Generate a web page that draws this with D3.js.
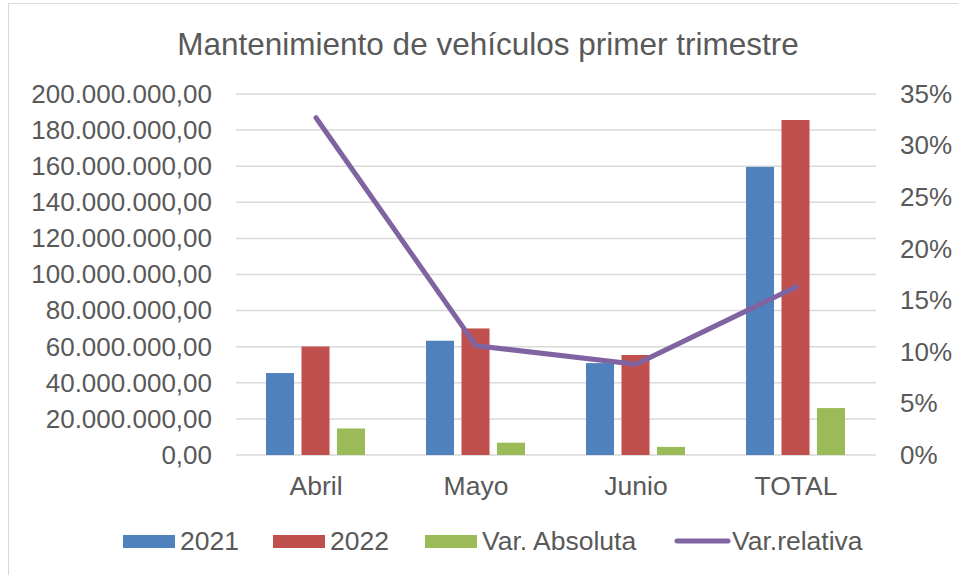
<!DOCTYPE html>
<html lang="es">
<head>
<meta charset="UTF-8">
<title>Mantenimiento de vehículos</title>
<script src="https://cdn.jsdelivr.net/npm/d3@7"></script>
<style>
  body { margin: 0; background: #fff; font-family: "Liberation Sans", Arial, sans-serif; }
  text { fill: #595959; }
</style>
</head>
<body>
<div id="chart"></div>
<script>
const categories = ["Abril", "Mayo", "Junio", "TOTAL"];
const seriesNames = ["2021", "2022", "Var. Absoluta"];
const v2021 = [45400000, 63300000, 50900000, 159600000];
const v2022 = [60100000, 70100000, 55400000, 185600000];
const varAbs = [14700000, 6800000, 4500000, 26000000];
const varRel = [0.327, 0.106, 0.088, 0.163];
const leftTicks = d3.range(0, 200000001, 20000000);
const rightTicks = d3.range(0, 0.3501, 0.05);

const W = 958, H = 575;
const m = { top: 94, right: 82, bottom: 120, left: 236 };
const iw = W - m.left - m.right, ih = H - m.top - m.bottom;

const colors = { "2021": "#4F81BD", "2022": "#C0504D", "Var. Absoluta": "#9BBB59", line: "#8064A2" };
const fontFam = "Liberation Sans, Arial, sans-serif";

const svg = d3.select("#chart").append("svg").attr("width", W).attr("height", H);

svg.append("rect").attr("x", 8.5).attr("y", 3.5).attr("width", 1200).attr("height", 1200)
  .attr("fill", "none").attr("stroke", "#d9d9d9");

svg.append("text").attr("x", 488).attr("y", 55).attr("text-anchor", "middle")
  .style("font-size", "31.5px").text("Mantenimiento de vehículos primer trimestre");

const g = svg.append("g").attr("transform", `translate(${m.left},${m.top})`);

const x0 = d3.scaleBand().domain(categories).range([0, iw]);
const x1 = d3.scaleBand().domain(seriesNames).range([30, 129]).paddingInner(0.21);
const y = d3.scaleLinear().domain([0, 200000000]).range([ih, 0]);
const y2 = d3.scaleLinear().domain([0, 0.35]).range([ih, 0]);

const fmt = v => {
  const s = d3.format(",.2f")(v);
  return s.replace(/,/g, "#").replace(".", ",").replace(/#/g, ".");
};

// grid
g.append("g").selectAll("line").data(leftTicks).join("line")
  .attr("x1", 0).attr("x2", iw)
  .attr("y1", d => y(d)).attr("y2", d => y(d))
  .attr("stroke", "#d9d9d9").attr("stroke-width", 1.5);

// left axis
const yAx = g.append("g").call(d3.axisLeft(y).tickValues(leftTicks).tickFormat(fmt).tickSize(0).tickPadding(24));
yAx.select(".domain").remove();
yAx.selectAll("text").style("font-size", "26px").style("font-family", fontFam).attr("fill", "#595959");

// right axis
const y2Ax = g.append("g").attr("transform", `translate(${iw},0)`)
  .call(d3.axisRight(y2).tickValues(rightTicks).tickFormat(d3.format(".0%")).tickSize(0).tickPadding(24));
y2Ax.select(".domain").remove();
y2Ax.selectAll("text").style("font-size", "26px").style("font-family", fontFam).attr("fill", "#595959");

// x axis
const xAx = g.append("g").attr("transform", `translate(0,${ih})`)
  .call(d3.axisBottom(x0).tickSize(0).tickPadding(21));
xAx.select(".domain").remove();
xAx.selectAll("text").style("font-size", "26.5px").style("font-family", fontFam).attr("fill", "#595959");

// bars
const rows = categories.map((c, i) => ({ cat: c, vals: [v2021[i], v2022[i], varAbs[i]] }));
g.append("g").selectAll("g").data(rows).join("g")
  .attr("transform", d => `translate(${x0(d.cat)},0)`)
  .selectAll("rect").data(d => d.vals.map((v, j) => ({ key: seriesNames[j], v })))
  .join("rect")
  .attr("x", d => x1(d.key)).attr("width", x1.bandwidth())
  .attr("y", d => y(d.v)).attr("height", d => ih - y(d.v))
  .attr("fill", d => colors[d.key]);

// line
const line = d3.line().x((d, i) => x0(categories[i]) + x0.bandwidth() / 2).y(d => y2(d));
g.append("path").datum(varRel).attr("d", line)
  .attr("fill", "none").attr("stroke", colors.line).attr("stroke-width", 5)
  .attr("stroke-linecap", "round").attr("stroke-linejoin", "round");

// legend
const legend = svg.append("g").attr("transform", "translate(0,541)");
const items = [
  { name: "2021", x: 123, type: "rect" },
  { name: "2022", x: 273, type: "rect" },
  { name: "Var. Absoluta", x: 425, type: "rect" },
  { name: "Var.relativa", x: 675, type: "line" }
];
items.forEach(it => {
  if (it.type === "rect") {
    legend.append("rect").attr("x", it.x).attr("y", -6).attr("width", 52).attr("height", 13).attr("fill", colors[it.name]);
  } else {
    legend.append("line").attr("x1", it.x + 2).attr("x2", it.x + 53).attr("y1", 0).attr("y2", 0)
      .attr("stroke", colors.line).attr("stroke-width", 5).attr("stroke-linecap", "round");
  }
  legend.append("text").attr("x", it.x + 57).attr("y", 9).style("font-size", "26.5px").text(it.name);
});
</script>
</body>
</html>
